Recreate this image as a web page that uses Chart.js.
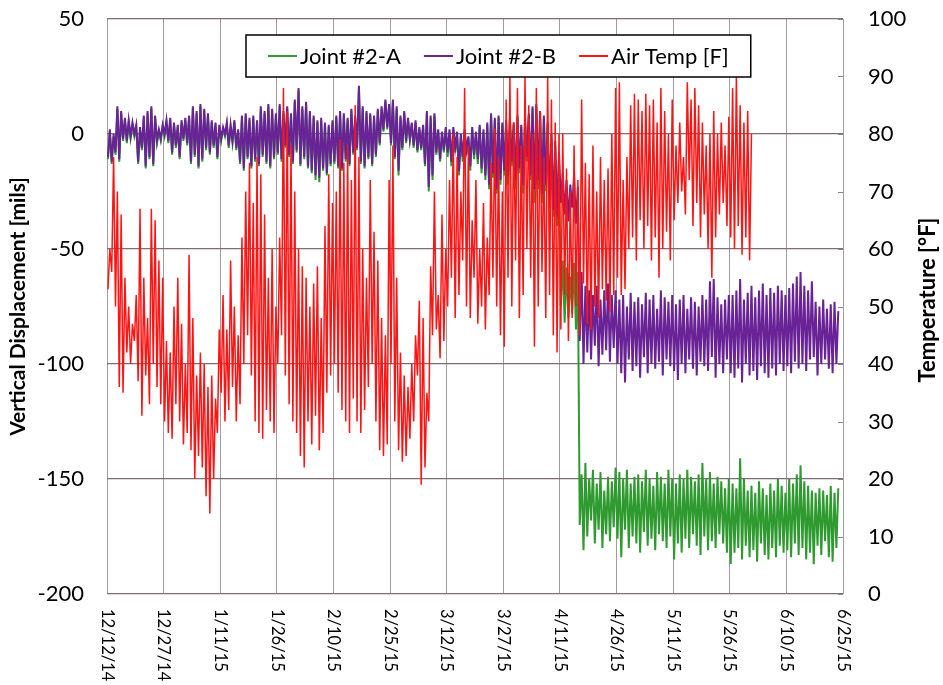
<!DOCTYPE html>
<html>
<head>
<meta charset="utf-8">
<script src="https://cdn.jsdelivr.net/npm/chart.js@4.4.1/dist/chart.umd.min.js"></script>
<style>
  html, body { margin:0; padding:0; background:#fff; }
  #wrap { width:943px; height:685px; }
</style>
</head>
<body>
<div id="wrap"><canvas id="grafico"></canvas></div>
<script>
// ── Axis labels ────────────────────────────────────────────────────────────
// x axis = days since 12/12/14, one date label every 15 days
const FECHAS = ["12/12/14","12/27/14","1/11/15","1/26/15","2/10/15","2/25/15","3/12/15",
                "3/27/15","4/11/15","4/26/15","5/11/15","5/26/15","6/10/15","6/25/15"];
const TICKS_DESPL = [-200,-150,-100,-50,0,50];
const TICKS_TEMP  = [0,10,20,30,40,50,60,70,80,90,100];

// ── Daily max / min, one value per day (rows = 15 days) ────────────────────
const TEMP_MAX = [
  60,76,70,66,55,50,47,52,67,55,48,67,65,58,55,
  44,42,50,55,47,40,59,48,38,42,40,36,38,34,46,
  52,46,58,50,45,62,70,75,68,76,73,66,55,60,50,
  62,88,84,78,70,60,57,55,50,54,57,48,64,73,68,
  70,79,75,78,72,85,76,60,55,72,63,58,48,45,72,
  78,55,42,38,36,40,45,51,48,35,57,70,52,66,60,
  72,80,76,70,88,78,65,72,60,68,62,75,81,76,70,
  86,90,82,88,78,90,85,80,88,84,76,90,86,82,80,
  80,74,70,78,72,86,75,73,78,70,76,72,74,80,88,
  89,72,76,85,87,86,84,87,85,86,82,88,84,80,86,
  78,82,76,89,86,88,85,82,78,80,84,80,82,78,83,
  88,90,85,82,84,80
];
const TEMP_MIN = [
  53,56,50,36,35,42,40,44,37,31,38,33,40,36,33,
  30,28,27,33,30,26,28,25,20,24,22,17,14,20,28,
  35,30,32,36,30,33,40,45,38,30,28,27,32,30,28,
  40,45,38,33,30,28,24,22,30,26,31,25,28,35,38,
  40,35,32,30,28,34,30,28,32,36,40,30,25,24,26,
  40,30,25,23,24,27,30,38,19,22,30,45,46,41,44,
  50,55,48,52,58,50,48,55,47,50,46,52,55,50,45,
  43,55,50,58,48,52,60,55,43,50,56,48,52,45,42,
  46,52,44,48,50,45,54,47,46,50,48,53,51,49,52,
  55,52,53,60,62,58,65,60,64,58,62,55,60,63,58,
  65,68,70,66,72,64,68,62,66,60,55,62,66,68,64,
  62,60,64,59,62,58
];

const JA_MAX = [
  1,-1,11,9,6,5,4,3,2,7,9,11,7,1,3,
  5,6,4,3,5,6,7,11,9,12,10,8,5,4,3,
  2,4,3,5,1,7,8,6,7,5,11,9,12,10,8,
  12,9,11,8,14,19,11,13,9,7,5,6,4,3,5,
  7,9,8,6,10,7,20,11,9,8,7,10,11,14,12,
  14,11,7,9,6,4,5,2,3,9,7,8,1,0,2,
  1,2,0,-1,1,-2,2,0,3,1,4,8,6,7,4,
  5,6,4,7,3,5,8,11,12,9,7,4,-2,-5,-10,
  -55,-58,-62,-56,-60,-148,-143,-150,-146,-152,-147,-155,-149,-151,-145,
  -147,-150,-146,-152,-149,-148,-151,-146,-150,-153,-147,-149,-152,-146,-150,
  -152,-148,-150,-146,-149,-151,-148,-143,-150,-147,-152,-149,-151,-154,-150,
  -152,-154,-141,-150,-155,-153,-156,-151,-154,-157,-152,-155,-150,-153,-156,
  -150,-152,-148,-144,-151,-153,-155,-156,-154,-155,-157,-153,-156,-154
];
const JA_MIN = [
  -11,-13,-9,-12,-3,-4,-2,-1,-13,-7,-15,-11,-14,-4,-3,
  -1,-4,-9,-6,-11,-3,-5,-13,-10,-15,-12,-7,-9,-6,-11,
  -3,-1,-6,-4,-7,-13,-16,-11,-15,-12,-14,-10,-13,-15,-11,
  -9,-12,-6,-10,-13,-8,-14,-11,-15,-17,-20,-21,-16,-18,-14,
  -13,-15,-16,-12,-14,-9,-7,-13,-15,-11,-14,-10,-5,1,2,
  -5,-11,-18,-7,-4,-3,-6,-8,-7,-14,-25,-20,-9,-12,-8,
  -10,-14,-8,-18,-12,-9,-16,-11,-13,-17,-20,-24,-19,-26,-22,
  -18,-22,-14,-24,-17,-26,-12,-20,-30,-24,-30,-25,-32,-36,-40,
  -75,-82,-80,-78,-85,-170,-181,-175,-168,-178,-172,-180,-174,-177,-171,
  -176,-184,-172,-180,-175,-178,-182,-173,-179,-176,-181,-174,-177,-180,-175,
  -185,-178,-182,-176,-180,-174,-179,-183,-175,-181,-177,-180,-174,-178,-182,
  -187,-182,-180,-185,-179,-184,-181,-186,-178,-183,-185,-180,-184,-179,-182,
  -181,-184,-178,-183,-180,-185,-182,-187,-179,-183,-177,-184,-186,-180
];

const JB_MAX = [
  2,0,12,10,7,6,5,4,3,8,10,12,8,2,4,
  6,7,5,4,6,7,8,12,10,13,11,9,6,5,4,
  3,5,4,6,2,8,9,7,8,6,12,10,13,11,9,
  13,10,12,9,15,20,12,14,10,8,6,7,5,4,6,
  8,10,9,7,11,8,21,12,10,9,8,11,12,15,13,
  15,12,8,10,7,5,6,3,4,10,8,9,2,1,3,
  2,3,1,0,2,-1,3,1,4,2,5,9,7,8,5,
  6,7,5,8,4,6,9,12,13,10,8,5,0,-3,-8,
  -17,-20,-22,-18,-23,-60,-66,-68,-70,-66,-72,-68,-65,-70,-68,
  -72,-70,-75,-69,-73,-71,-74,-69,-72,-70,-76,-68,-71,-73,-70,
  -74,-72,-70,-76,-71,-73,-75,-70,-72,-64,-63,-71,-74,-72,-70,
  -70,-68,-63,-72,-69,-66,-71,-68,-65,-70,-67,-69,-66,-68,-70,
  -67,-65,-62,-60,-66,-68,-64,-73,-75,-72,-76,-74,-73,-77
];
const JB_MIN = [
  -10,-12,-8,-11,-2,-3,-1,0,-12,-6,-14,-10,-13,-3,-2,
  0,-3,-8,-5,-10,-2,-4,-12,-9,-14,-11,-6,-8,-5,-10,
  -2,0,-5,-3,-6,-12,-15,-10,-14,-11,-13,-9,-12,-14,-10,
  -8,-11,-5,-9,-12,-7,-13,-10,-14,-16,-18,-19,-15,-17,-13,
  -12,-14,-15,-11,-13,-8,-6,-12,-14,-10,-13,-9,-4,2,3,
  -4,-10,-16,-6,-3,-2,-5,-7,-6,-13,-23,-18,-8,-11,-7,
  -8,-12,-6,-16,-10,-7,-14,-9,-11,-15,-18,-22,-17,-24,-20,
  -16,-18,-12,-20,-15,-22,-10,-18,-24,-20,-26,-22,-28,-33,-36,
  -30,-35,-38,-32,-39,-90,-100,-95,-98,-92,-101,-96,-94,-99,-93,
  -100,-104,-108,-98,-103,-101,-106,-97,-104,-100,-102,-99,-105,-98,-101,
  -103,-107,-100,-104,-98,-102,-105,-99,-101,-103,-97,-106,-100,-104,-98,
  -104,-106,-102,-108,-100,-105,-103,-107,-101,-104,-106,-102,-105,-100,-103,
  -101,-104,-99,-102,-100,-103,-98,-97,-105,-100,-98,-102,-104,-100
];

const COLOR_A = "#2f9a2f";
const COLOR_B = "#6a2396";
const COLOR_T = "#ff1414";

// morning low, afternoon high for each day
function serie(min, max) {
  const pts = [];
  min.forEach((v, d) => {
    pts.push({ x: d + 0.25, y: v });
    pts.push({ x: d + 0.75, y: max[d] });
  });
  return pts;
}

function fijarTicks(lista) {
  return s => { s.ticks = lista.map(v => ({ value: v })); };
}

// fixed axis box, no extra room for the end labels
function fijarAncho(w) {
  return s => { s.width = w; s.paddingTop = 0; s.paddingBottom = 0; };
}

// ── Extra drawing: rotated dates, axis titles, legend box ─────────────────
const extras = {
  id: "extras",
  afterDraw(chart) {
    const c = chart.ctx, a = chart.chartArea;
    const sx = chart.scales.x, sy1 = chart.scales.y1;
    c.save();
    c.fillStyle = "#000";

    // inner tick marks on the right axis
    c.strokeStyle = "#8a8286"; c.lineWidth = 1;
    TICKS_TEMP.forEach(v => {
      const py = Math.round(sy1.getPixelForValue(v)) + 0.5;
      c.beginPath(); c.moveTo(a.right - 5, py); c.lineTo(a.right, py); c.stroke();
    });

    // date labels, rotated clockwise
    c.font = "16.5px Lato";
    c.textAlign = "left"; c.textBaseline = "middle";
    FECHAS.forEach((lbl, i) => {
      const px = sx.getPixelForValue(i * 15);
      c.save(); c.translate(px, a.bottom + 15); c.rotate(Math.PI / 2);
      c.fillText(lbl, 0, 0); c.restore();
    });

    // axis titles
    c.font = "bold 21px Lato"; c.textAlign = "center";
    c.save(); c.translate(18, (a.top + a.bottom) / 2); c.rotate(-Math.PI / 2);
    c.fillText("Vertical Displacement [mils]", 0, 0); c.restore();
    c.font = "bold 22px Lato";
    c.save(); c.translate(928, 300); c.rotate(-Math.PI / 2);
    c.fillText("Temperature [\u00B0F]", 0, 0); c.restore();

    // legend
    const items = [
      { label: "Joint #2-A", color: COLOR_A },
      { label: "Joint #2-B", color: COLOR_B },
      { label: "Air Temp [F]", color: COLOR_T }
    ];
    c.font = "22px Lato"; c.textAlign = "left";
    const pad = 22, lineW = 29, gap = 3, sep = 23;
    let w = pad * 2;
    items.forEach((it, i) => { w += lineW + gap + c.measureText(it.label).width + (i ? sep : 0); });
    const bx = 246, by = 35, bh = 42;
    c.fillStyle = "#fff"; c.fillRect(bx, by, w, bh);
    c.strokeStyle = "#000"; c.lineWidth = 1.5; c.strokeRect(bx, by, w, bh);
    let x = bx + pad;
    const cy = by + bh / 2;
    items.forEach(it => {
      c.strokeStyle = it.color; c.lineWidth = 2;
      c.beginPath(); c.moveTo(x, cy); c.lineTo(x + lineW, cy); c.stroke();
      x += lineW + gap;
      c.fillStyle = "#000"; c.fillText(it.label, x, cy + 1);
      x += c.measureText(it.label).width + sep;
    });
    c.restore();
  }
};

Chart.defaults.font.family = "Lato";
Chart.defaults.color = "#000";

new Chart(document.getElementById("grafico"), {
  type: "line",
  data: {
    datasets: [
      { label:"Air Temp [F]", data:serie(TEMP_MIN, TEMP_MAX), yAxisID:"y1", borderColor:COLOR_T, borderWidth:1.5, order:0 },
      { label:"Joint #2-B",   data:serie(JB_MIN, JB_MAX),     yAxisID:"y",  borderColor:COLOR_B, borderWidth:2,   order:1 },
      { label:"Joint #2-A",   data:serie(JA_MIN, JA_MAX),     yAxisID:"y",  borderColor:COLOR_A, borderWidth:2,   order:2 }
    ]
  },
  options: {
    responsive: true, maintainAspectRatio: false, animation: false,
    layout: { padding: { top: 19, left: 0, right: 0, bottom: 0 } },
    elements: { point: { radius: 0 }, line: { tension: 0, fill: false } },
    scales: {
      x: {
        type: "linear", min: 0, max: 195,
        afterBuildTicks: fijarTicks(FECHAS.map((f, i) => i * 15)),
        afterFit: s => { s.height = 91; s.paddingLeft = 0; s.paddingRight = 0; },
        ticks: { display: false },
        grid: { color: "#a39c9f", lineWidth: 1, drawTicks: false },
        border: { display: false }
      },
      y: {
        position: "left", min: -200, max: 50,
        afterBuildTicks: fijarTicks(TICKS_DESPL),
        afterFit: fijarAncho(107),
        ticks: { padding: 23, font: { size: 22 }, color: "#000" },
        grid: { color: "#7c6e74", lineWidth: 1.2, drawTicks: false },
        border: { display: false }
      },
      y1: {
        position: "right", min: 0, max: 100,
        afterBuildTicks: fijarTicks(TICKS_TEMP),
        afterFit: fijarAncho(100),
        ticks: { padding: 25, font: { size: 22 }, color: "#000" },
        grid: { drawOnChartArea: false, drawTicks: false },
        border: { display: false }
      }
    },
    plugins: { legend: { display: false }, tooltip: { enabled: false } }
  },
  plugins: [extras]
});
</script>
</body>
</html>
